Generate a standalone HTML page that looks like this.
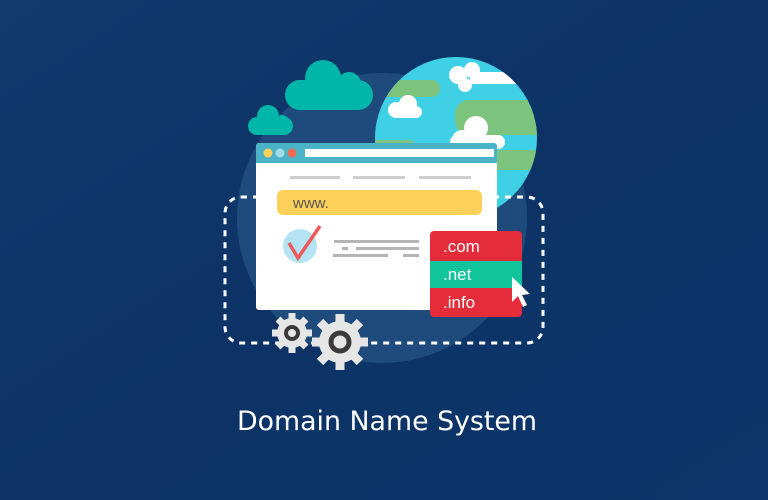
<!DOCTYPE html>
<html><head><meta charset="utf-8"><style>
html,body{margin:0;padding:0;width:768px;height:500px;overflow:hidden;background:#0e3467}
</style></head><body>
<svg width="768" height="500" viewBox="0 0 768 500" xmlns="http://www.w3.org/2000/svg">
<defs>
<linearGradient id="bg" x1="0" y1="0" x2="1" y2="1">
<stop offset="0" stop-color="#113a6d"/><stop offset="0.5" stop-color="#0d3366"/><stop offset="1" stop-color="#0c3569"/></linearGradient>
<clipPath id="gc"><circle cx="456" cy="138" r="81"/></clipPath>
</defs>
<rect width="768" height="500" fill="url(#bg)"/>
<circle cx="382" cy="218" r="145" fill="#1e4b7b"/>
<!-- globe -->
<g clip-path="url(#gc)">
<rect x="370" y="50" width="180" height="180" fill="#3fd0e6"/>
<rect x="380" y="80" width="60" height="17" rx="8" fill="#7cc47e"/>
<rect x="455" y="100" width="100" height="35" rx="14" fill="#7cc47e"/>
<rect x="490" y="150" width="70" height="20" rx="10" fill="#7cc47e"/>
<rect x="370" y="140" width="45" height="12" rx="6" fill="#7cc47e"/>
<rect x="470" y="72" width="90" height="12" fill="#fff"/>
<circle cx="458" cy="75" r="9" fill="#fff"/><circle cx="472" cy="70" r="8" fill="#fff"/><circle cx="465" cy="85" r="7" fill="#fff"/>
<circle cx="408" cy="104" r="9" fill="#fff"/><circle cx="396" cy="110" r="8" fill="#fff"/><rect x="392" y="106" width="30" height="12" rx="6" fill="#fff"/>
<circle cx="476" cy="128" r="12" fill="#fff"/><circle cx="462" cy="140" r="10" fill="#fff"/><rect x="450" y="135" width="55" height="14" rx="7" fill="#fff"/>
</g>
<!-- clouds -->
<g fill="#00b6a9">
<rect x="285" y="80" width="88" height="30" rx="15"/><circle cx="323" cy="78" r="18"/><circle cx="349" cy="84" r="12"/>
<rect x="248" y="117" width="45" height="18" rx="9"/><circle cx="268" cy="116" r="11"/><circle cx="282" cy="122" r="7"/>
</g>
<!-- dashed -->
<rect x="225" y="197" width="318" height="146" rx="16" fill="none" stroke="#fff" stroke-width="3" stroke-dasharray="6 6"/>
<!-- browser -->
<rect x="256" y="143" width="241" height="167" rx="3" fill="#fff"/>
<path d="M256 163 V146 a3 3 0 0 1 3 -3 H494 a3 3 0 0 1 3 3 V163Z" fill="#4ab3c8"/>
<circle cx="268" cy="153" r="4.5" fill="#fdd05a"/><circle cx="280" cy="153" r="4.5" fill="#a2dce6"/><circle cx="292" cy="153" r="4.5" fill="#f36b50"/>
<rect x="305" y="149" width="189" height="8" fill="#fff"/>
<g fill="#cfcfcf"><rect x="290" y="176" width="50" height="3"/><rect x="353" y="176" width="52" height="3"/><rect x="419" y="176" width="52" height="3"/></g>
<rect x="277" y="190" width="205" height="25" rx="6" fill="#fdd05a"/>
<text x="293" y="208" font-family="Liberation Sans, sans-serif" font-size="15" fill="#555">www.</text>
<circle cx="300" cy="246" r="17" fill="#b4e4f4"/>
<path d="M289 243 L298 258 L320 226" fill="none" stroke="#ee5a5a" stroke-width="3.5"/>
<g fill="#b5b5b5"><rect x="334" y="240" width="85" height="3"/><rect x="342" y="247" width="6" height="3"/><rect x="356" y="247" width="63" height="3"/><rect x="333" y="254" width="55" height="3"/><rect x="403" y="254" width="16" height="3"/></g>
<!-- domain box -->
<rect x="430" y="231" width="92" height="86" rx="4" fill="#e52c3a"/>
<rect x="430" y="261" width="92" height="27" fill="#10c49b"/>
<g font-family="Liberation Sans, sans-serif" font-size="17" fill="#fff">
<text x="443" y="252">.com</text><text x="443" y="280">.net</text><text x="443" y="308">.info</text></g>
<path d="M512 277 L512 302 L518 296 L523 307 L527 305 L522 295 L530 294Z" fill="#fff"/>
<!-- gears -->
<g fill="#e6e6e6">
<circle cx="292" cy="333" r="15"/>
<g stroke="#e6e6e6" stroke-width="7"><line x1="292" y1="313" x2="292" y2="353"/><line x1="272" y1="333" x2="312" y2="333"/><line x1="278" y1="319" x2="306" y2="347"/><line x1="306" y1="319" x2="278" y2="347"/></g>
<circle cx="340" cy="342" r="21"/>
<g stroke="#e6e6e6" stroke-width="9"><line x1="340" y1="314" x2="340" y2="370"/><line x1="312" y1="342" x2="368" y2="342"/><line x1="320" y1="322" x2="360" y2="362"/><line x1="360" y1="322" x2="320" y2="362"/></g>
</g>
<circle cx="292" cy="333" r="6" fill="none" stroke="#3a3a3a" stroke-width="4"/>
<circle cx="340" cy="342" r="9" fill="none" stroke="#3a3a3a" stroke-width="5"/>
<text x="387" y="430" text-anchor="middle" font-family="DejaVu Sans, Liberation Sans, sans-serif" font-size="27" fill="#fff" textLength="300" lengthAdjust="spacingAndGlyphs">Domain Name System</text>
</svg>
</body></html>
